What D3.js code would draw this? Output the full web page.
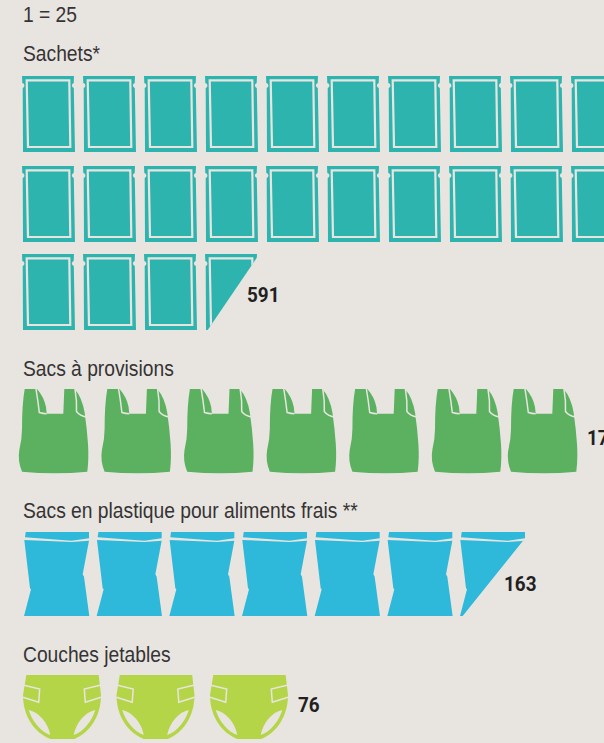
<!DOCTYPE html>
<html>
<head>
<meta charset="utf-8">
<script src="https://cdn.jsdelivr.net/npm/d3@7"></script>
<style>
  html, body { margin: 0; background: #e8e5e1; overflow: hidden; }
  text { font-family: "Liberation Sans", sans-serif; font-size: 22px; fill: #353334; }
  .value { font-family: "Roboto", sans-serif; font-weight: 700; font-size: 21px; fill: #231f20; }
</style>
</head>
<body>
<script>
const categories = ['Sachets*', 'Sacs à provisions', 'Sacs en plastique pour aliments frais **', 'Couches jetables']
const values = [591, 175, 163, 76]
const unit = 25
const unitLabel = '1 = 25'

const width = 604, height = 743
const bg = '#e8e5e1'

// icon drawings, in px from the icon's top left corner
const icons = [
  { // sachet
    color: '#2eb4ae',
    fill: ['M0,0L52,0L51.7,7A2.6,2.6 0 0 0 51.8,12L53,76L1,76L0.7,12A2.6,2.6 0 0 0 0.3,7Z'],
    line: ['M4.7,4.3L47.3,4.3L48.3,71L6,71Z'],
    cut: 'M-3,-3L56,-3L53,2L2,77L-3,78Z'
  },
  { // shopping bag
    color: '#5cb160',
    fill: ['M5.7,0L18,0Q25,8 27,18L27.7,24.7L44.3,24.7L45.3,0L55.5,0Q63,8 65.7,24Q68,40 69,55Q70,70 68.3,82.7Q36,86 3,82.7Q-1.5,72 0.3,61Q3,50 3,40Q3,15 5.7,0Z'],
    line: ['M17,0Q19,12 20.3,23.5Q24,24.7 27.7,24.7', 'M56,0Q58,12 57.5,22.5Q61,27 67.5,28']
  },
  { // fresh food bag
    color: '#2eb9da',
    fill: ['M1.7,0L65,0L65,6.3L47.7,8.7L1,5.3Z', 'M0.3,8L47.7,10L65,8.7L58.7,42.3L60,44.7L65.3,84L0,84L7,57.3L6,56.3Z'],
    line: [],
    cut: 'M-3,-3L68,-3L68,8L63,8.7L2.7,84L-3,85Z'
  },
  { // diaper
    color: '#b5d548',
    fill: ['M3.3,0L75.7,0L78,20C78,42 66,58 51.3,64L27.3,64C12,58 0,42 0,20Z'],
    line: ['M0,10L16.7,14L15.7,27.3L0,22.3', 'M78,10L61.3,14L62.3,27.3L78,22.3'],
    hole: ['M5.7,35C16,37 25,48 27.3,60C18,57 9,46 5.7,35Z', 'M72.3,35C62,37 53,48 50.7,60C60,57 69,46 72.3,35Z']
  }
]

// where each group sits: icon index -> left edge
const slotIndex = [[0, 9], [0, 5, 6], [0, 6], [0, 2]]
const slotX = [[22, 571], [19, 432, 508], [24, 460], [23, 210]]
const rowTops = [[76, 166, 254], [389], [532], [675]]
const perRow = [10, 8, 8, 8]
const labelY = [61, 376, 518, 662]
const valueX = [247, 587, 504, 298]
const valueY = [302, 445, 591, 712]
const textLeft = 23
const squeeze = .875

const svg = d3.select('body').append('svg')
    .attr('width', width)
    .attr('height', height)
    .style('display', 'block')

svg.append('text')
    .attr('transform', 'translate(' + textLeft + ',22) scale(' + squeeze + ',1)')
    .text(unitLabel)

const defs = svg.append('defs')
icons.forEach((icon, i) => {
  if (icon.cut) defs.append('clipPath').attr('id', 'cut' + i).append('path').attr('d', icon.cut)
})

categories.forEach((name, i) => {
  const icon = icons[i]
  const whole = Math.floor(values[i] / unit)
  const part = values[i] % unit / unit
  const count = whole + (part >= .5 ? 1 : 0)

  const x = d3.scaleLinear().domain(slotIndex[i]).range(slotX[i])
  const y = d3.scaleOrdinal().domain(d3.range(rowTops[i].length)).range(rowTops[i])

  svg.append('text')
      .attr('transform', 'translate(' + textLeft + ',' + labelY[i] + ') scale(' + squeeze + ',1)')
      .text(name)

  const g = svg.append('g').selectAll('g')
    .data(d3.range(count))
    .enter().append('g')
      .attr('transform', d => 'translate(' + x(d % perRow[i]) + ',' + y(Math.floor(d / perRow[i])) + ')')
    .append('g')
      .attr('clip-path', d => (d === whole ? 'url(#cut' + i + ')' : null))

  g.selectAll('path.fill')
    .data(icon.fill)
    .enter().append('path')
      .attr('class', 'fill')
      .attr('d', d => d)
      .attr('fill', icon.color)

  g.selectAll('path.hole')
    .data(icon.hole || [])
    .enter().append('path')
      .attr('class', 'hole')
      .attr('d', d => d)
      .attr('fill', bg)

  g.selectAll('path.line')
    .data(icon.line)
    .enter().append('path')
      .attr('class', 'line')
      .attr('d', d => d)
      .attr('fill', 'none')
      .attr('stroke', bg)
      .attr('stroke-width', i === 0 ? 2.2 : 1.5)

  svg.append('text')
      .attr('class', 'value')
      .attr('transform', 'translate(' + valueX[i] + ',' + valueY[i] + ') scale(.9,1)')
      .text(values[i])
})
</script>
</body>
</html>
